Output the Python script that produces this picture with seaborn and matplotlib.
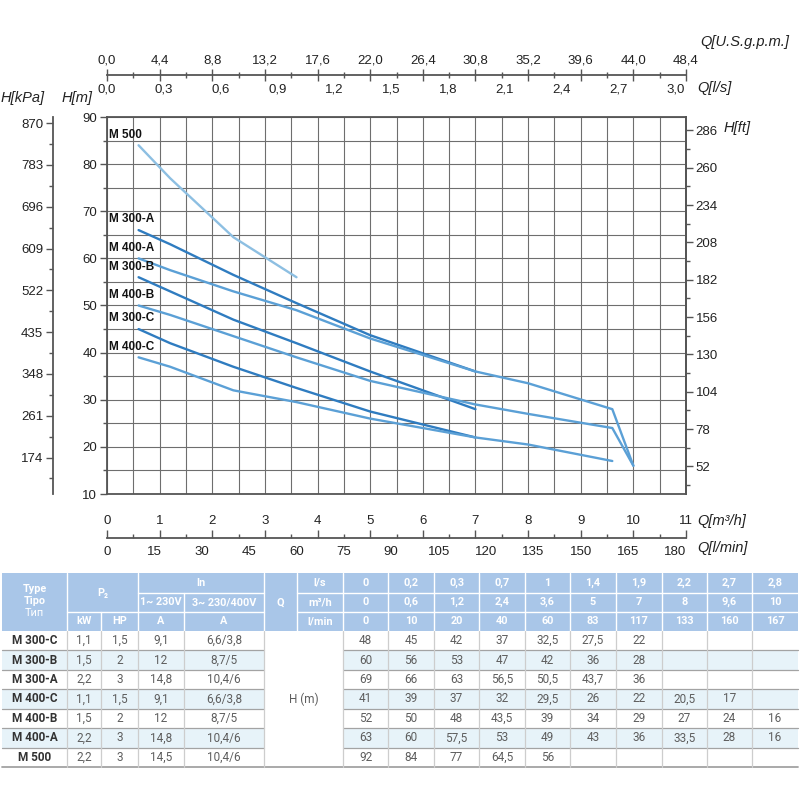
import numpy as np
import pandas as pd
import seaborn as sns
import matplotlib.pyplot as plt
from matplotlib.patches import Rectangle

# ---------------- data ----------------
models = ['M 300-C', 'M 300-B', 'M 300-A', 'M 400-C', 'M 400-B', 'M 400-A', 'M 500']
power_kw = ['1,1', '1,5', '2,2', '1,1', '1,5', '2,2', '2,2']
power_hp = ['1,5', '2', '3', '1,5', '2', '3', '3']
current_1ph = ['9,1', '12', '14,8', '9,1', '12', '14,8', '14,5']
current_3ph = ['6,6/3,8', '8,7/5', '10,4/6', '6,6/3,8', '8,7/5', '10,4/6', '10,4/6']

q_ls = [0, 0.2, 0.3, 0.7, 1, 1.4, 1.9, 2.2, 2.7, 2.8]
q_m3h = [0, 0.6, 1.2, 2.4, 3.6, 5, 7, 8, 9.6, 10]
q_lmin = [0, 10, 20, 40, 60, 83, 117, 133, 160, 167]

head_m300c = [48, 45, 42, 37, 32.5, 27.5, 22]
head_m300b = [60, 56, 53, 47, 42, 36, 28]
head_m300a = [69, 66, 63, 56.5, 50.5, 43.7, 36]
head_m400c = [41, 39, 37, 32, 29.5, 26, 22, 20.5, 17]
head_m400b = [52, 50, 48, 43.5, 39, 34, 29, 27, 24, 16]
head_m400a = [63, 60, 57.5, 53, 49, 43, 36, 33.5, 28, 16]
head_m500 = [92, 84, 77, 64.5, 56]
heads = [head_m300c, head_m300b, head_m300a, head_m400c, head_m400b, head_m400a, head_m500]

# tick values / labels
h_m_ticks = [10, 20, 30, 40, 50, 60, 70, 80, 90]
h_m_minor = [15, 25, 35, 45, 55, 65, 75, 85]
h_kpa_ticks = [174, 261, 348, 435, 522, 609, 696, 783, 870]
h_kpa_minor = [130.5, 217.5, 304.5, 391.5, 478.5, 565.5, 652.5, 739.5, 826.5]
h_ft_ticks = [52, 78, 104, 130, 156, 182, 208, 234, 260, 286]
h_ft_minor = [39, 65, 91, 117, 143, 169, 195, 221, 247, 273]
q_m3h_ticks = [0, 1, 2, 3, 4, 5, 6, 7, 8, 9, 10, 11]
q_m3h_minor = [0.5, 1.5, 2.5, 3.5, 4.5, 5.5, 6.5, 7.5, 8.5, 9.5, 10.5]
q_lmin_ticks = [0, 15, 30, 45, 60, 75, 90, 105, 120, 135, 150, 165, 180]
q_gpm_ticks = [0.0, 4.4, 8.8, 13.2, 17.6, 22.0, 26.4, 30.8, 35.2, 39.6, 44.0, 48.4]
q_gpm_minor = [2.2, 6.6, 11.0, 15.4, 19.8, 24.2, 28.6, 33.0, 37.4, 41.8, 46.2]
q_ls_ticks = [0.0, 0.3, 0.6, 0.9, 1.2, 1.5, 1.8, 2.1, 2.4, 2.7, 3.0]

c300 = '#2f7cc0'
c400 = '#5ba0d6'
c500 = '#8dbfe2'
palette = {'M 300-C': c300, 'M 300-B': c300, 'M 300-A': c300,
           'M 400-C': c400, 'M 400-B': c400, 'M 400-A': c400, 'M 500': c500}


def comma(v, nd=None):
    s = f"{v:.{nd}f}" if nd is not None else f"{v:g}"
    return s.replace('.', ',')


sns.set_theme(style='ticks')
plt.rcParams['font.family'] = ['Liberation Sans', 'DejaVu Sans']

PX = 800
fig = plt.figure(figsize=(8, 8), dpi=100)
fig.patch.set_facecolor('white')

# ---------------- table (drawn in pixel coordinates) ----------------
axt = fig.add_axes([0, 0, 1, 1], zorder=-1)
axt.set_xlim(0, PX)
axt.set_ylim(PX, 0)
axt.axis('off')

tfont = ['Roboto', 'DejaVu Sans']
cx = [2, 67, 101, 138, 184, 264, 297, 343, 388, 434, 479, 525, 570, 616, 662, 707, 752, 798]
hy = [573, 592.5, 612, 631]
row_h = (767 - 631) / 7
dy = [631 + row_h * i for i in range(8)]
hdr_col = '#a9c6e8'
alt_col = '#e7f3f9'
txt_col = '#5e5e5e'

axt.add_patch(Rectangle((cx[0], hy[0]), cx[-1] - cx[0], hy[3] - hy[0], color=hdr_col, lw=0))
for i in range(7):
    if i % 2 == 1:
        axt.add_patch(Rectangle((cx[0], dy[i]), cx[5] - cx[0], row_h, color=alt_col, lw=0))
        axt.add_patch(Rectangle((cx[7], dy[i]), cx[-1] - cx[7], row_h, color=alt_col, lw=0))

# header white lines
wl = dict(color='white', lw=1.0)
for x in [cx[1], cx[3], cx[5], cx[6]] + cx[7:-1]:
    axt.plot([x, x], [hy[0], hy[3]], **wl)
axt.plot([cx[2], cx[2]], [hy[2], hy[3]], **wl)
axt.plot([cx[4], cx[4]], [hy[1], hy[3]], **wl)
axt.plot([cx[3], cx[5]], [hy[1], hy[1]], **wl)
axt.plot([cx[6], cx[-1]], [hy[1], hy[1]], **wl)
axt.plot([cx[1], cx[5]], [hy[2], hy[2]], **wl)
axt.plot([cx[6], cx[-1]], [hy[2], hy[2]], **wl)

hk = dict(ha='center', va='center', color='white', fontsize=7.8, fontweight='bold', family=tfont)
ccx = [(cx[i] + cx[i + 1]) / 2 for i in range(len(cx) - 1)]
hcy = [(hy[i] + hy[i + 1]) / 2 for i in range(3)]
axt.text(ccx[0], 589, 'Type', **hk)
axt.text(ccx[0], 601, 'Tipo', **hk)
axt.text(ccx[0], 612.5, 'Тип', **{**hk, 'fontweight': 'normal'})
axt.text((cx[1] + cx[3]) / 2, (hy[0] + hy[2]) / 2, 'P₂', **hk)
axt.text(ccx[1], hcy[2], 'kW', **hk)
axt.text(ccx[2], hcy[2], 'HP', **hk)
axt.text((cx[3] + cx[5]) / 2, hcy[0], 'In', **hk)
axt.text(ccx[3], hcy[1], '1~ 230V', **hk)
axt.text(ccx[4], hcy[1], '3~ 230/400V', **hk)
axt.text(ccx[3], hcy[2], 'A', **hk)
axt.text(ccx[4], hcy[2], 'A', **hk)
axt.text(ccx[5], hcy[1], 'Q', **hk)
for r, unit in enumerate(['l/s', 'm³/h', 'l/min']):
    axt.text(ccx[6], hcy[r], unit, **hk)
for j in range(len(q_ls)):
    axt.text(ccx[7 + j], hcy[0], comma(q_ls[j]), **hk)
    axt.text(ccx[7 + j], hcy[1], comma(q_m3h[j]), **hk)
    axt.text(ccx[7 + j], hcy[2], comma(q_lmin[j]), **hk)

dk = dict(ha='center', va='center', color=txt_col, fontsize=8.5, family=tfont)
for i in range(7):
    yc = dy[i] + row_h / 2
    axt.text(ccx[0], yc, models[i], **{**dk, 'color': '#333333', 'fontweight': 'bold'})
    axt.text(ccx[1], yc, power_kw[i], **dk)
    axt.text(ccx[2], yc, power_hp[i], **dk)
    axt.text(ccx[3], yc, current_1ph[i], **dk)
    axt.text(ccx[4], yc, current_3ph[i], **dk)
    for j, v in enumerate(heads[i]):
        axt.text(ccx[7 + j], yc, comma(v), **dk)
axt.text((cx[5] + cx[7]) / 2, (dy[0] + dy[7]) / 2, 'H (m)', **dk)

gl = dict(color='#a3a3a3', lw=0.9)
for i in range(1, 7):
    axt.plot([cx[0], cx[5]], [dy[i], dy[i]], **gl)
    axt.plot([cx[7], cx[-1]], [dy[i], dy[i]], **gl)
axt.plot([cx[0], cx[-1]], [dy[7], dy[7]], color='#a3a3a3', lw=1.3)
for x in cx[1:-1]:
    if x == cx[6]:
        continue
    axt.plot([x, x], [dy[0], dy[7]], color='#cdcdcd', lw=0.9)

# ---------------- chart ----------------
L, R, T, B = 107, 686, 117, 494
ax = fig.add_axes([L / PX, 1 - B / PX, (R - L) / PX, (B - T) / PX])
ax.set_xlim(0, 11)
ax.set_ylim(10, 90)

records = []
for name, hs in zip(models, heads):
    for q, h in zip(q_m3h[1:], hs[1:]):
        records.append({'Model': name, 'Q': q, 'H': h})
curves = pd.DataFrame(records)
sns.lineplot(data=curves, x='Q', y='H', hue='Model', palette=palette,
             estimator=None, sort=False, linewidth=1.7, legend=False, ax=ax)
ax.set_xlabel('')
ax.set_ylabel('')

for name, hs in zip(models, heads):
    ax.text(0.04, hs[1] + 1.0, name, fontsize=8.5, fontweight='bold',
            ha='left', va='bottom', color='#111111')

ax.set_axisbelow(True)
ax.set_xticks(q_m3h_ticks, labels=[str(v) for v in q_m3h_ticks])
ax.set_xticks(q_m3h_minor, minor=True)
ax.set_yticks(h_m_ticks, labels=[str(v) for v in h_m_ticks])
ax.set_yticks(h_m_minor, minor=True)
ax.grid(True, which='both', color='#6e6e6e', linewidth=0.8)
ax.tick_params(axis='x', which='both', length=0, pad=15, labelsize=9.5, colors='#222222')
ax.tick_params(axis='y', which='major', length=5, width=1, direction='out', pad=2,
               labelsize=9.5, colors='#555555', labelcolor='#222222')
ax.tick_params(axis='y', which='minor', length=3, width=1, direction='out', colors='#555555')
for sp in ax.spines.values():
    sp.set_visible(True)
    sp.set_color('#555555')
    sp.set_linewidth(1.3)

spine_col = '#555555'

# right: H[ft]
ax_ft = ax.secondary_yaxis('right', functions=(lambda m: m * 3.28084, lambda f: f / 3.28084))
ax_ft.set_ticks(h_ft_ticks, labels=[str(v) for v in h_ft_ticks])
ax_ft.set_ticks(h_ft_minor, minor=True)
ax_ft.tick_params(which='major', length=5, width=1, direction='out', pad=2, labelsize=9.5,
                  colors=spine_col, labelcolor='#222222')
ax_ft.tick_params(which='minor', length=3, width=1, direction='out', colors=spine_col)
ax_ft.spines['right'].set_color(spine_col)
ax_ft.spines['right'].set_linewidth(1.3)

# left: H[kPa]
ax_kpa = ax.secondary_yaxis((53 - L) / (R - L), functions=(lambda m: m * 9.81, lambda k: k / 9.81))
ax_kpa.set_ticks(h_kpa_ticks, labels=[str(v) for v in h_kpa_ticks])
ax_kpa.set_ticks(h_kpa_minor, minor=True)
ax_kpa.tick_params(which='major', length=5, width=1, direction='out', pad=2, labelsize=9.5,
                   colors=spine_col, labelcolor='#222222')
ax_kpa.tick_params(which='minor', length=3, width=1, direction='out', colors=spine_col)
ax_kpa.spines['left'].set_color(spine_col)
ax_kpa.spines['left'].set_linewidth(1.3)

# top: U.S.g.p.m. (above) and l/s (below)
loc_top = (B - 75) / (B - T)
ax_gpm = ax.secondary_xaxis(loc_top, functions=(lambda q: q * 4.4, lambda g: g / 4.4))
ax_gpm.set_ticks(q_gpm_ticks, labels=[comma(v, 1) for v in q_gpm_ticks])
ax_gpm.set_ticks(q_gpm_minor, minor=True)
ax_gpm.tick_params(which='major', length=8, width=1, direction='inout', pad=2, labelsize=9.5,
                   colors=spine_col, labelcolor='#222222')
ax_gpm.tick_params(which='minor', length=4, width=1, direction='inout', colors=spine_col)
for s in ('top', 'bottom'):
    ax_gpm.spines[s].set_color(spine_col)
    ax_gpm.spines[s].set_linewidth(1.3)

ax_ls = ax.secondary_xaxis(loc_top, functions=(lambda q: q / 3.6, lambda s: s * 3.6))
ax_ls.set_alignment('bottom')
ax_ls.set_ticks(q_ls_ticks, labels=[comma(v, 1) for v in q_ls_ticks])
ax_ls.tick_params(which='both', length=0, pad=6, labelsize=9.5, labelcolor='#222222')
ax_ls.spines['bottom'].set_visible(False)
ax_ls.spines['top'].set_visible(False)

# bottom: l/min axis with m3/h tick marks
loc_bot = -(538 - B) / (B - T)
ax_qt = ax.secondary_xaxis(loc_bot)
ax_qt.set_ticks(q_m3h_ticks)
ax_qt.set_ticks(q_m3h_minor, minor=True)
ax_qt.tick_params(which='major', length=6, width=1, direction='in', colors=spine_col, labelbottom=False)
ax_qt.tick_params(which='minor', length=3, width=1, direction='in', colors=spine_col)
for s in ('top', 'bottom'):
    ax_qt.spines[s].set_color(spine_col)
    ax_qt.spines[s].set_linewidth(1.3)

ax_lmin = ax.secondary_xaxis(loc_bot, functions=(lambda q: q * 1000 / 60, lambda l: l * 60 / 1000))
ax_lmin.set_ticks(q_lmin_ticks, labels=[str(v) for v in q_lmin_ticks])
ax_lmin.tick_params(which='both', length=0, pad=6, labelsize=9.5, labelcolor='#222222')
ax_lmin.spines['bottom'].set_visible(False)
ax_lmin.spines['top'].set_visible(False)

# axis names
nk = dict(fontsize=10.5, style='italic', color='#222222', va='center')
fig.text(745 / PX, 1 - 42 / PX, 'Q[U.S.g.p.m.]', ha='center', **nk)
fig.text(697 / PX, 1 - 88 / PX, 'Q[l/s]', ha='left', **nk)
fig.text(23 / PX, 1 - 98 / PX, 'H[kPa]', ha='center', **nk)
fig.text(77 / PX, 1 - 98 / PX, 'H[m]', ha='center', **nk)
fig.text(737 / PX, 1 - 128 / PX, 'H[ft]', ha='center', **nk)
fig.text(697 / PX, 1 - 521 / PX, 'Q[m³/h]', ha='left', **nk)
fig.text(697 / PX, 1 - 548 / PX, 'Q[l/min]', ha='left', **nk)

fig.savefig('out.png', dpi=100, facecolor='white')
